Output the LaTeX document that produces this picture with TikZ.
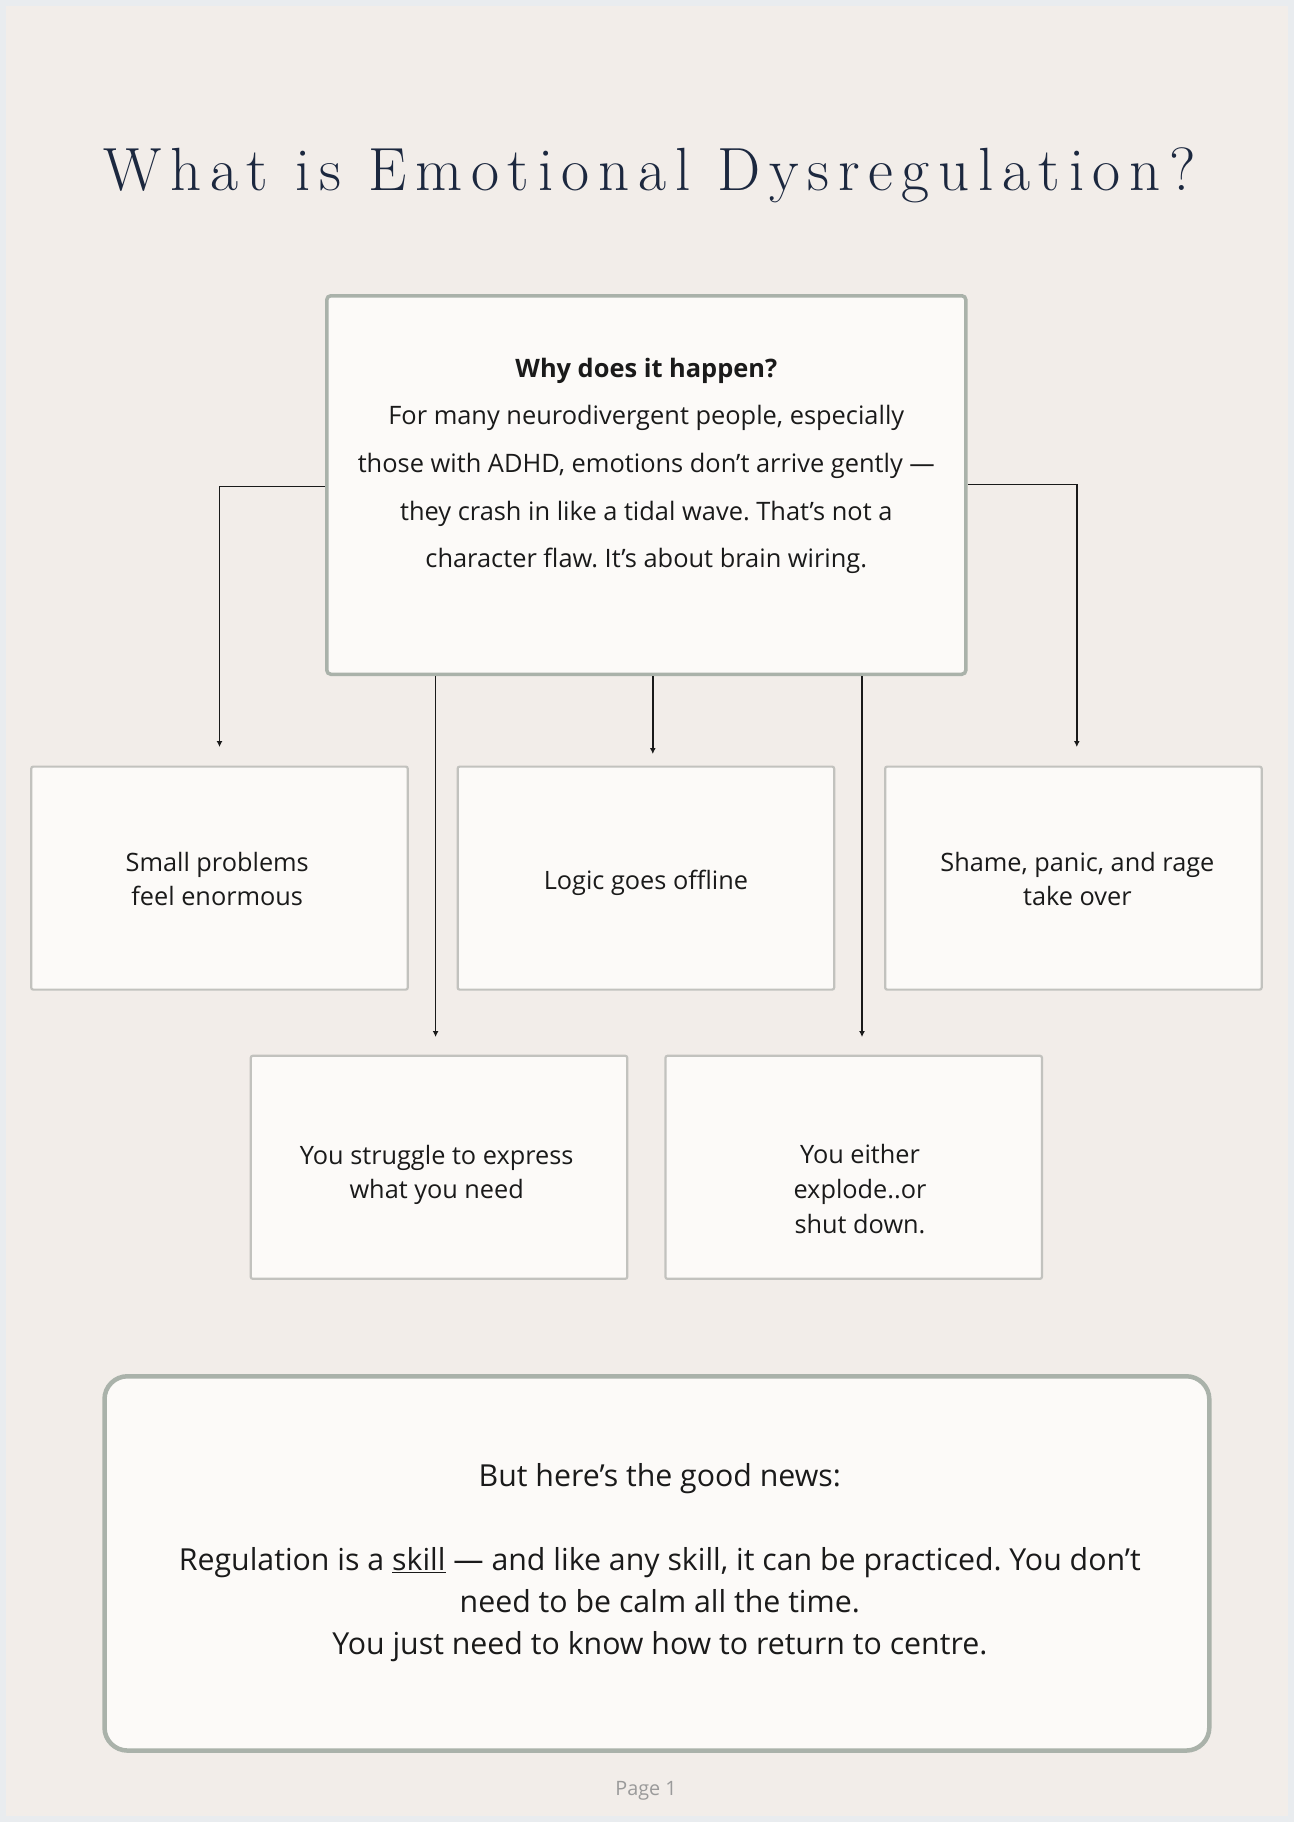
\documentclass[tikz,border=0pt]{standalone}
\usepackage{fontspec}
\newfontfamily\bodyfont{Open Sans}
\usetikzlibrary{arrows.meta}
\definecolor{pagebg}{HTML}{F2EDE9}
\definecolor{edgebg}{HTML}{E9ECEF}
\definecolor{boxfill}{HTML}{FCFAF8}
\definecolor{mainborder}{HTML}{AAB2AA}
\definecolor{smallborder}{HTML}{C2C2BE}
\definecolor{titlecol}{HTML}{1C283F}
\definecolor{inkcol}{HTML}{1A1A1A}
\definecolor{pagenum}{HTML}{9A9A9A}
\makeatletter
\def\lsamount{0.142em}
\newcommand\lsword[1]{\ls@loop#1\ls@end}
\def\ls@loop#1{\ifx#1\ls@end\else#1\kern\lsamount\expandafter\ls@loop\fi}
\makeatother
\frenchspacing
\begin{document}
\begin{tikzpicture}[x=1pt,y=-1pt,
  bigbox/.style={draw=mainborder, line width=3.5pt, fill=boxfill, rounded corners=4pt, inner sep=0pt},
  smallbox/.style={draw=smallborder, line width=2.2pt, fill=boxfill, rounded corners=2pt,
    minimum width=376.5pt, minimum height=223pt, inner sep=0pt},
  boxtext/.style={align=center, text=inkcol, inner sep=0pt,
    font=\bodyfont\fontsize{25.3}{34.6}\selectfont},
  plaintext/.style={align=center, text=inkcol, inner sep=0pt},
  conn/.style={draw=inkcol, line width=1.4pt, -{Latex[length=6pt,width=6pt]}}]
\useasboundingbox (0,0) rectangle (1294,1822);
\fill[edgebg] (0,0) rectangle (1294,1822);
\fill[pagebg] (6,6) rectangle (1288,1816);
% title
\node[anchor=base, text=titlecol, inner sep=0pt,
  font=\fontsize{61}{67}\selectfont] (title) at (654,191)
  {\lsword{What}\ \lsword{is}\ \lsword{Emotional}\ \lsword{Dysregulation?}};
% top box
\node[bigbox, minimum width=639pt, minimum height=378.5pt] (why) at (646.3,485) {};
\node[plaintext, font=\bodyfont\fontsize{25.4}{47.6}\selectfont] (whytext) at (646.3,465.8)
  {\textbf{Why does it happen?}\\
   For many neurodivergent people, especially\\
   those with ADHD, emotions don’t arrive gently —\\
   they crash in like a tidal wave. That’s not a\\
   character flaw. It’s about brain wiring.};
% row 1
\node[smallbox] (b1) at (219.5,878.1) {};
\node[smallbox] (b2) at (645.9,878.1) {};
\node[smallbox] (b3) at (1073.4,878.1) {};
\node[boxtext] (b1t) at (217.2,879) {Small problems\\feel enormous};
\node[boxtext] (b2t) at (645.9,882.7) {Logic goes offline};
\node[boxtext] (b3t) at (1077.4,879) {Shame, panic, and rage\\take over};
% row 2
\node[smallbox] (b4) at (439,1167.3) {};
\node[smallbox] (b5) at (853.7,1167.3) {};
\node[boxtext] (b4t) at (436.7,1175) {You struggle to express\\what you need};
\node[boxtext] (b5t) at (860,1189) {You either\\explode..or\\shut down.};
% connectors
\coordinate (lA) at (219.5,486.7);
\coordinate (lEnd) at (219.5,747);
\coordinate (rA) at (1076.8,484.4);
\coordinate (rEnd) at (1076.8,747);
\coordinate (mEnd) at (652.8,754);
\coordinate (blEnd) at (435.6,1037);
\coordinate (brEnd) at (862,1037);
\draw[conn] (why.west |- lA) -- (lA) -- (lEnd);
\draw[conn] (why.east |- rA) -- (rA) -- (rEnd);
\draw[conn] (why.south -| mEnd) -- (mEnd);
\draw[conn] (why.south -| blEnd) -- (blEnd);
\draw[conn] (why.south -| brEnd) -- (brEnd);
% bottom box
\node[bigbox, line width=4.5pt, rounded corners=23pt, minimum width=1104.8pt, minimum height=374.3pt] (news) at (656.9,1563.4) {};
\node[plaintext, font=\bodyfont\fontsize{30.3}{42}\selectfont] (newshead) at (659.8,1478.5) {But here’s the good news:};
\node[plaintext, font=\bodyfont\fontsize{30.3}{42}\selectfont] (newsbody) at (659.8,1605)
  {Regulation is a \underline{skill} — and like any skill, it can be practiced. You don’t\\
   need to be calm all the time.\\
   You just need to know how to return to centre.};
\node[text=pagenum, font=\bodyfont\fontsize{19.8}{22}\selectfont, inner sep=0pt] (page) at (646,1791) {Page 1};
\end{tikzpicture}
\end{document}
